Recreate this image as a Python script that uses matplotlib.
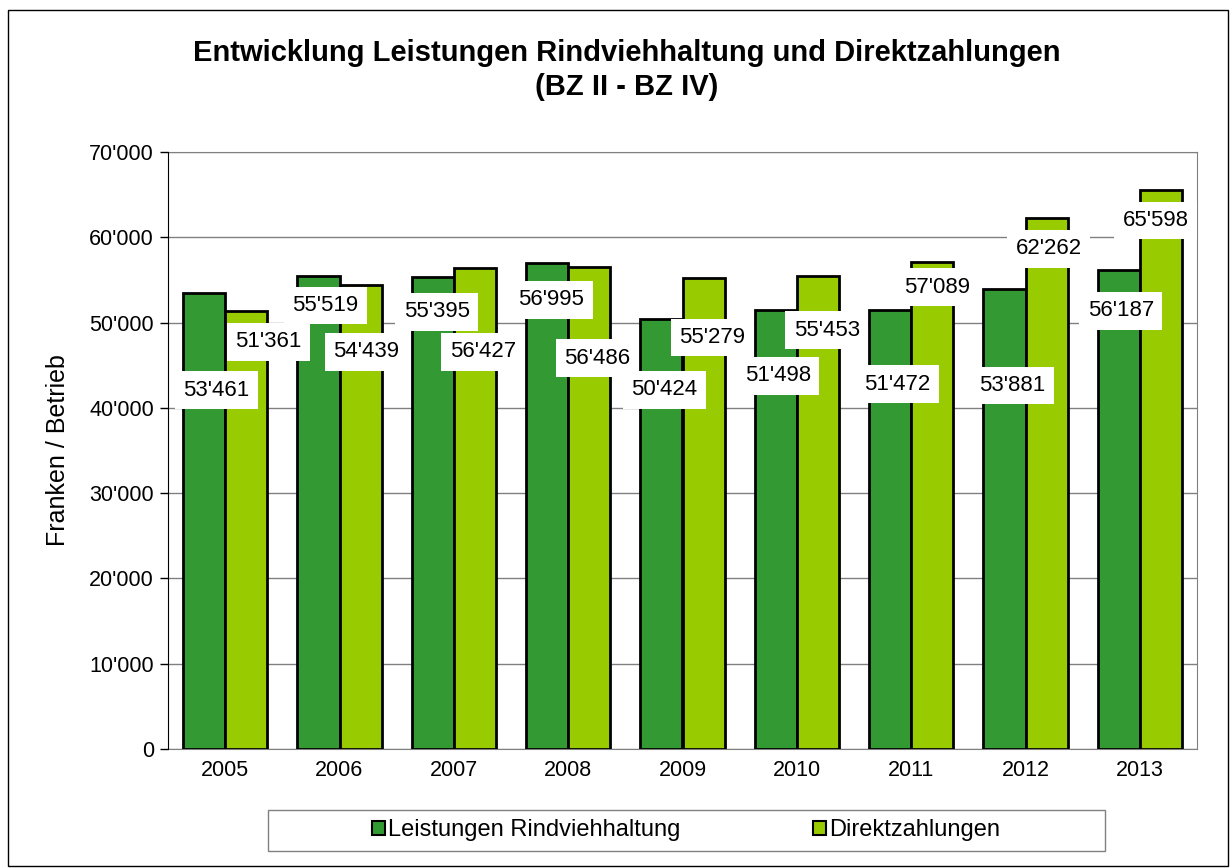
import matplotlib.pyplot as plt
from matplotlib.patches import Patch, Rectangle
from matplotlib.ticker import FuncFormatter
import numpy as np

plt.rcParams['font.family'] = ['Liberation Sans', 'DejaVu Sans']

jahre = ['2005', '2006', '2007', '2008', '2009', '2010', '2011', '2012', '2013']
leistungen = [53461, 55519, 55395, 56995, 50424, 51498, 51472, 53881, 56187]
direktzahlungen = [51361, 54439, 56427, 56486, 55279, 55453, 57089, 62262, 65598]

# Verschiebung der Beschriftungen (Pixel, relativ zur Balkenspitze)
off_leist = [(12, -97), (7, -30), (4, -35), (4, -37), (3, -71), (2, -66), (7, -74), (8, -96), (2, -41)]
off_direkt = [(22, -31), (6, -67), (8, -84), (8, -91), (9, -60), (9, -54), (5, -25), (2, -31), (-5, -31)]

dunkel = '#339933'
hell = '#99cc00'

def fmt(v, pos=None):
    return '{:,.0f}'.format(v).replace(',', "'")

fig = plt.figure(figsize=(12.31, 8.68), dpi=100)
ax = fig.add_axes([168/1231, 1-749/868, (1197-168)/1231, (749-152)/868])

x = np.arange(len(jahre))
b = 0.368
ax.bar(x - b/2, leistungen, b, color=dunkel, edgecolor='black', linewidth=2, zorder=3)
ax.bar(x + b/2, direktzahlungen, b, color=hell, edgecolor='black', linewidth=2, zorder=3)

ax.set_xlim(-0.5, len(jahre) - 0.5)
ax.set_ylim(0, 70000)
ax.set_yticks(range(0, 70001, 10000))
ax.yaxis.set_major_formatter(FuncFormatter(fmt))
ax.set_xticks(x)
ax.set_xticklabels(jahre)
ax.tick_params(axis='x', length=0, labelsize=15.5, pad=8)
ax.tick_params(axis='y', length=6, width=1, labelsize=15.5, pad=4)
ax.grid(axis='y', color='#808080', linewidth=1, zorder=0)
ax.set_axisbelow(True)
for s in ['top', 'right', 'bottom']:
    ax.spines[s].set_color('#808080')
ax.spines['left'].set_color('black')
ax.spines['left'].set_zorder(4)
ax.set_ylabel('Franken / Betrieb', fontsize=18, labelpad=14)

for i in range(len(jahre)):
    ax.annotate(fmt(leistungen[i]), xy=(x[i] - b/2, leistungen[i]), xytext=off_leist[i],
                textcoords='offset pixels', ha='center', va='center', fontsize=16, zorder=5,
                bbox=dict(facecolor='white', edgecolor='none', pad=6))
    ax.annotate(fmt(direktzahlungen[i]), xy=(x[i] + b/2, direktzahlungen[i]), xytext=off_direkt[i],
                textcoords='offset pixels', ha='center', va='center', fontsize=16, zorder=5,
                bbox=dict(facecolor='white', edgecolor='none', pad=6))

fig.text(627/1231, 1-70/868, 'Entwicklung Leistungen Rindviehhaltung und Direktzahlungen\n(BZ II - BZ IV)',
         ha='center', va='center', fontsize=21, fontweight='bold', linespacing=1.25)

# Legende mit eigenem Rahmen
fig.patches.append(Rectangle((268/1231, 1-851/868), (1105-268)/1231, 41/868,
                             transform=fig.transFigure, facecolor='white', edgecolor='#808080', linewidth=1))
handles = [Patch(facecolor=dunkel, edgecolor='black', linewidth=1.5, label='Leistungen Rindviehhaltung'),
           Patch(facecolor=hell, edgecolor='black', linewidth=1.5, label='Direktzahlungen')]
fig.legend(handles=handles, loc='center', bbox_to_anchor=(686/1231, 1-830/868), ncol=2, frameon=False,
           fontsize=17, handlelength=0.55, handleheight=0.55, handletextpad=0.15, columnspacing=5.6)

# äusserer Rahmen
fig.patches.append(Rectangle((8/1231, 2/868), 1220/1231, 856/868, transform=fig.transFigure,
                             facecolor='none', edgecolor='black', linewidth=1))

fig.savefig('out.png', dpi=100)
